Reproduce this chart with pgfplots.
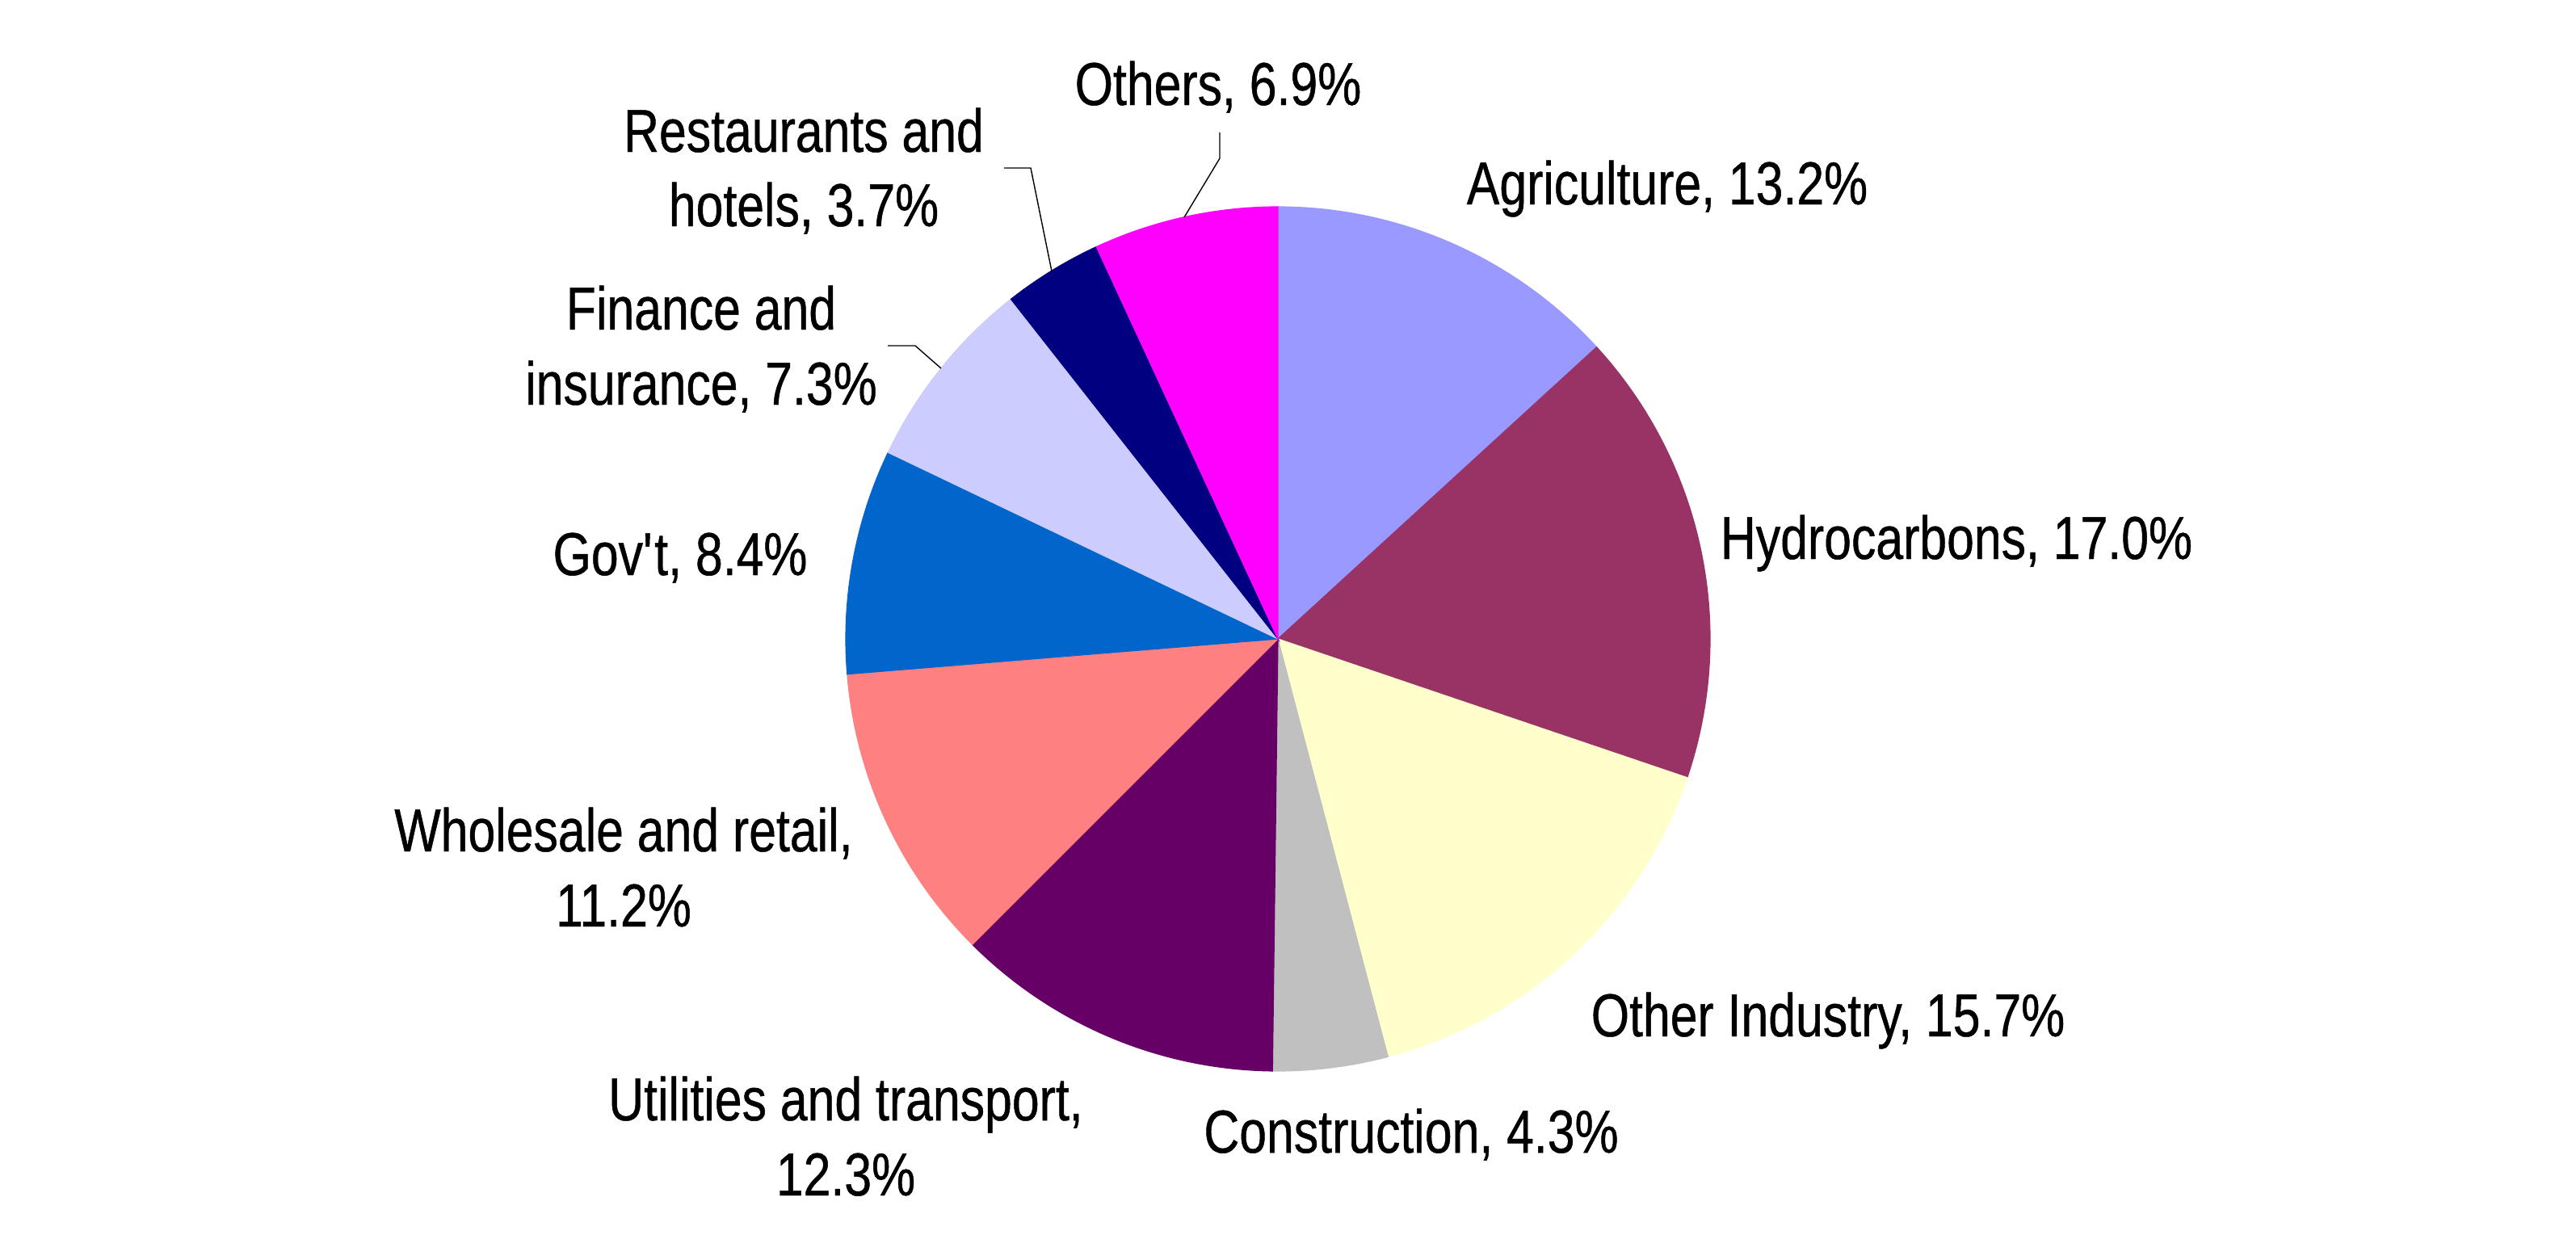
\documentclass[border=0pt]{standalone}
\usepackage{fontspec}
\setmainfont{Liberation Sans}[FakeStretch=0.81, FakeBold=0.6]
\usepackage{pgfplots}
\pgfplotsset{compat=1.18}
\definecolor{cAgri}{HTML}{9999FF}
\definecolor{cHydro}{HTML}{993366}
\definecolor{cOthInd}{HTML}{FFFFCC}
\definecolor{cConstr}{HTML}{C0C0C0}
\definecolor{cUtil}{HTML}{660066}
\definecolor{cWhole}{HTML}{FF8080}
\definecolor{cGov}{HTML}{0066CC}
\definecolor{cFin}{HTML}{CCCCFF}
\definecolor{cRest}{HTML}{000080}
\definecolor{cOthers}{HTML}{FF00FF}
% slice from cumulative share #1 to #2 (percent), colour #3
\newcommand{\pieslice}[3]{%
  \addplot[fill=#3, draw=#3, line width=0.3pt, domain=#1:#2, samples=100, variable=\t]
    ({1582+535*sin(3.6*\t)},{791-535*cos(3.6*\t)}) -- (axis cs:1582,791) -- cycle;}
\newcommand{\lab}{\fontsize{18.75pt}{23.25pt}\selectfont}
\begin{document}
\begin{tikzpicture}
\begin{axis}[scale only axis, width=797.25pt, height=388.5pt,
  xmin=0, xmax=3189, ymin=0, ymax=1554, y dir=reverse,
  hide axis, clip=false]
\addplot[draw=none] coordinates {(0,0) (3189,1554)};
% shares: Agriculture 13.2, Hydrocarbons 17.0, Other Industry 15.7, Construction 4.3,
% Utilities and transport 12.3, Wholesale and retail 11.2, Gov't 8.4,
% Finance and insurance 7.3, Restaurants and hotels 3.7, Others 6.9
\pieslice{0}{13.2}{cAgri}
\pieslice{13.2}{30.2}{cHydro}
\pieslice{30.2}{45.9}{cOthInd}
\pieslice{45.9}{50.2}{cConstr}
\pieslice{50.2}{62.5}{cUtil}
\pieslice{62.5}{73.7}{cWhole}
\pieslice{73.7}{82.1}{cGov}
\pieslice{82.1}{89.4}{cFin}
\pieslice{89.4}{93.1}{cRest}
\pieslice{93.1}{100}{cOthers}
% leader lines
\addplot[black, line width=0.35pt] coordinates {(1243,208) (1276,208) (1302,336)};
\addplot[black, line width=0.35pt] coordinates {(1099,428) (1133,428) (1165,456)};
\addplot[black, line width=0.35pt] coordinates {(1510,164) (1510,196) (1466,269)};
% labels
\node[anchor=base, inner sep=0pt] at (axis cs:2064,253) {\lab Agriculture, 13.2\%};
\node[anchor=base, inner sep=0pt] at (axis cs:2422,692) {\lab Hydrocarbons, 17.0\%};
\node[anchor=base, inner sep=0pt] at (axis cs:2263,1283) {\lab Other Industry, 15.7\%};
\node[anchor=base, inner sep=0pt] at (axis cs:1747,1427) {\lab Construction, 4.3\%};
\node[anchor=base, inner sep=0pt] at (axis cs:1047,1387) {\lab Utilities and transport,};
\node[anchor=base, inner sep=0pt] at (axis cs:1047,1480) {\lab 12.3\%};
\node[anchor=base, inner sep=0pt] at (axis cs:772,1054) {\lab Wholesale and retail,};
\node[anchor=base, inner sep=0pt] at (axis cs:772,1147) {\lab 11.2\%};
\node[anchor=base, inner sep=0pt] at (axis cs:842,712) {\lab Gov\textquotesingle t, 8.4\%};
\node[anchor=base, inner sep=0pt] at (axis cs:868,408) {\lab Finance and};
\node[anchor=base, inner sep=0pt] at (axis cs:868,501) {\lab insurance, 7.3\%};
\node[anchor=base, inner sep=0pt] at (axis cs:995,188) {\lab Restaurants and};
\node[anchor=base, inner sep=0pt] at (axis cs:995,280) {\lab hotels, 3.7\%};
\node[anchor=base, inner sep=0pt] at (axis cs:1508,130) {\lab Others, 6.9\%};
\end{axis}
\end{tikzpicture}
\end{document}
